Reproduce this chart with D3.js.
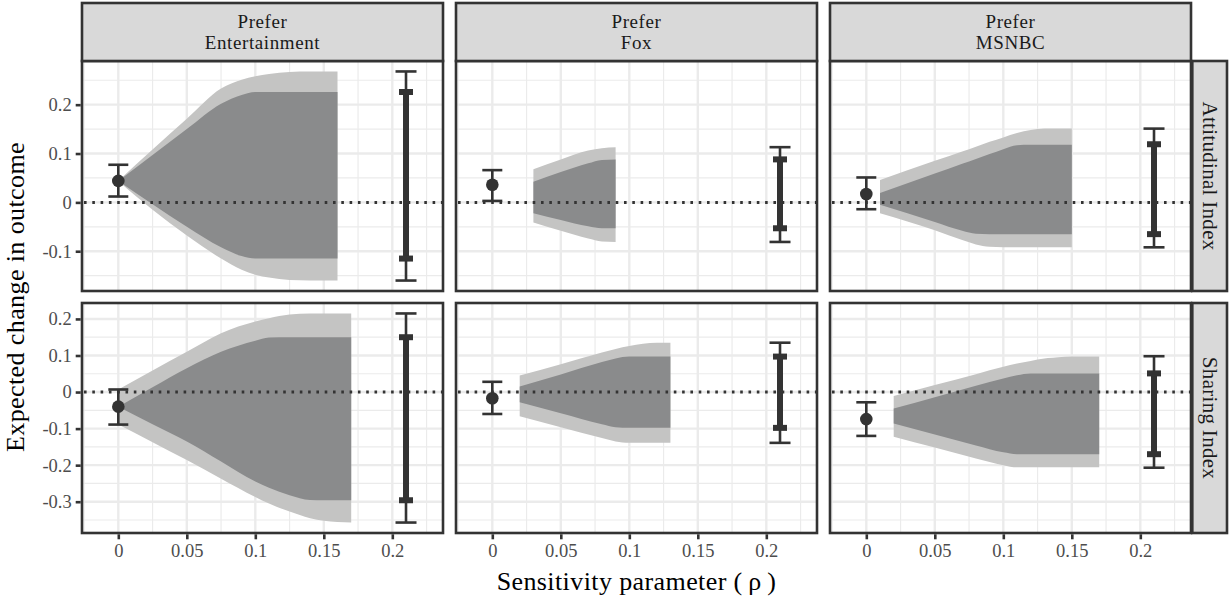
<!DOCTYPE html>
<html>
<head>
<meta charset="utf-8">
<script src="https://cdn.jsdelivr.net/npm/d3@7"></script>
<style>
  body { margin: 0; background: #fff; }
  svg text { font-family: "Liberation Serif", "Times New Roman", serif; }
</style>
</head>
<body>
<div id="chart"></div>
<script>
const groups   = ['Entertainment', 'Fox', 'MSNBC']
const outcomes = ['Attitudinal Index', 'Sharing Index']
const xTicks   = [0, 0.05, 0.1, 0.15, 0.2]
const xMinor   = [-0.025, 0.025, 0.075, 0.125, 0.175, 0.225]
const yTicks   = [[-0.1, 0, 0.1, 0.2], [-0.3, -0.2, -0.1, 0, 0.1, 0.2]]
const yMinor   = [[-0.15, -0.05, 0.05, 0.15, 0.25], [-0.35, -0.25, -0.15, -0.05, 0.05, 0.15]]

// estimate at rho = 0 and its CI (row-major: Attitudinal x3, Sharing x3)
const estimate = [0.044, 0.036, 0.017, -0.040, -0.017, -0.074]
const ciLow    = [0.012, 0.003, -0.014, -0.089, -0.060, -0.120]
const ciHigh   = [0.077, 0.066, 0.051, 0.007, 0.028, -0.028]

// bounds shown at the right of each panel
const boundRho  = 0.21
const outerLow  = [-0.160, -0.081, -0.092, -0.357, -0.139, -0.207]
const innerLow  = [-0.115, -0.053, -0.065, -0.296, -0.098, -0.170]
const innerHigh = [0.226, 0.088, 0.119, 0.150, 0.097, 0.051]
const outerHigh = [0.268, 0.113, 0.151, 0.215, 0.135, 0.098]

// sensitivity bands: [rho, lightLow, darkLow, darkHigh, lightHigh]
const bandEntAtt = [
  [0.000, 0.044, 0.044, 0.044, 0.044],
  [0.025, -0.015, -0.004, 0.097, 0.108],
  [0.050, -0.068, -0.050, 0.150, 0.171],
  [0.075, -0.115, -0.092, 0.202, 0.233],
  [0.090, -0.138, -0.110, 0.220, 0.251],
  [0.100, -0.148, -0.115, 0.226, 0.258],
  [0.110, -0.154, -0.115, 0.226, 0.263],
  [0.125, -0.159, -0.115, 0.226, 0.267],
  [0.140, -0.160, -0.115, 0.226, 0.268],
  [0.160, -0.160, -0.115, 0.226, 0.268],
]
const bandFoxAtt = [
  [0.03, -0.041, -0.022, 0.042, 0.068],
  [0.05, -0.058, -0.036, 0.062, 0.088],
  [0.07, -0.074, -0.049, 0.080, 0.106],
  [0.08, -0.080, -0.053, 0.087, 0.111],
  [0.09, -0.081, -0.053, 0.088, 0.113],
]
const bandMsnAtt = [
  [0.01, -0.022, -0.005, 0.019, 0.046],
  [0.05, -0.057, -0.040, 0.059, 0.085],
  [0.07, -0.077, -0.058, 0.079, 0.104],
  [0.08, -0.086, -0.064, 0.089, 0.114],
  [0.09, -0.091, -0.065, 0.099, 0.124],
  [0.10, -0.092, -0.065, 0.109, 0.133],
  [0.11, -0.092, -0.065, 0.117, 0.142],
  [0.12, -0.092, -0.065, 0.118, 0.148],
  [0.13, -0.092, -0.065, 0.118, 0.151],
  [0.15, -0.092, -0.065, 0.118, 0.151],
]
const bandEntShr = [
  [0.000, -0.089, -0.040, -0.040, 0.007],
  [0.025, -0.137, -0.088, 0.013, 0.059],
  [0.050, -0.186, -0.135, 0.065, 0.110],
  [0.075, -0.237, -0.190, 0.110, 0.161],
  [0.100, -0.287, -0.245, 0.140, 0.193],
  [0.110, -0.305, -0.262, 0.149, 0.202],
  [0.125, -0.327, -0.282, 0.150, 0.212],
  [0.140, -0.345, -0.295, 0.150, 0.215],
  [0.150, -0.352, -0.296, 0.150, 0.215],
  [0.170, -0.357, -0.296, 0.150, 0.215],
]
const bandFoxShr = [
  [0.02, -0.066, -0.028, 0.015, 0.045],
  [0.05, -0.096, -0.058, 0.048, 0.076],
  [0.08, -0.126, -0.088, 0.082, 0.108],
  [0.09, -0.135, -0.096, 0.092, 0.118],
  [0.10, -0.139, -0.098, 0.097, 0.126],
  [0.11, -0.139, -0.098, 0.097, 0.132],
  [0.12, -0.139, -0.098, 0.097, 0.135],
  [0.13, -0.139, -0.098, 0.097, 0.135],
]
const bandMsnShr = [
  [0.020, -0.122, -0.086, -0.045, -0.011],
  [0.050, -0.152, -0.116, -0.014, 0.019],
  [0.080, -0.182, -0.146, 0.017, 0.049],
  [0.100, -0.200, -0.165, 0.037, 0.069],
  [0.110, -0.206, -0.170, 0.046, 0.078],
  [0.120, -0.206, -0.170, 0.051, 0.085],
  [0.125, -0.206, -0.170, 0.051, 0.089],
  [0.140, -0.206, -0.170, 0.051, 0.095],
  [0.150, -0.206, -0.170, 0.051, 0.097],
  [0.170, -0.206, -0.170, 0.051, 0.097],
]
const bands = [bandEntAtt, bandFoxAtt, bandMsnAtt, bandEntShr, bandFoxShr, bandMsnShr]

const W = 1229, H = 599
const COL_X = [82, 456, 830], PANEL_W = 361
const ROW_Y = [61, 303], PANEL_H = 230
const STRIP_TOP = 3, STRIP_R = 36
const INK = '#333333', LIGHT = '#c4c4c3', DARK = '#8a8b8c'
const GRID = '#ebebeb'
const SERIF = '"Liberation Serif", "Times New Roman", serif'

const svg = d3.select('#chart').append('svg')
  .attr('width', W).attr('height', H)

const fmt = d => (Math.round(d * 1000) / 1000).toString()

// free y per row, 5% expansion like ggplot
const yScales = outcomes.map((_, r) => {
  const vals = []
  for (let c = 0; c < 3; c++) {
    const i = r * 3 + c
    vals.push(ciLow[i], ciHigh[i], outerLow[i], outerHigh[i])
    bands[i].forEach(b => vals.push(b[1], b[4]))
  }
  const [lo, hi] = d3.extent(vals)
  const pad = (hi - lo) * 0.05
  return d3.scaleLinear().domain([lo - pad, hi + pad]).range([ROW_Y[r] + PANEL_H, ROW_Y[r]])
})

const areaGen = (x, y, i0, i1) => d3.area()
  .x(d => x(d[0])).y0(d => y(d[i0])).y1(d => y(d[i1]))
  .curve(d3.curveMonotoneX)

outcomes.forEach((outcome, r) => {
  const y = yScales[r]
  groups.forEach((grp, c) => {
    const i = r * 3 + c
    const x = d3.scaleLinear().domain([-0.0265, 0.237]).range([COL_X[c], COL_X[c] + PANEL_W])
    const g = svg.append('g')
    const [x0, x1] = x.range(), [y1, y0] = y.range()

    g.append('rect').attr('x', x0).attr('y', y0).attr('width', x1 - x0).attr('height', y1 - y0).attr('fill', '#fff')

    // ── grid ─────────────────────────────────────────────
    g.selectAll('.vminor').data(xMinor).join('line')
      .attr('x1', d => x(d)).attr('x2', d => x(d)).attr('y1', y0).attr('y2', y1)
      .attr('stroke', GRID).attr('stroke-width', 1.2)
    g.selectAll('.hminor').data(yMinor[r].filter(v => v > y.domain()[0] && v < y.domain()[1])).join('line')
      .attr('y1', d => y(d)).attr('y2', d => y(d)).attr('x1', x0).attr('x2', x1)
      .attr('stroke', GRID).attr('stroke-width', 1.2)
    g.selectAll('.vmajor').data(xTicks).join('line')
      .attr('x1', d => x(d)).attr('x2', d => x(d)).attr('y1', y0).attr('y2', y1)
      .attr('stroke', GRID).attr('stroke-width', 2.4)
    g.selectAll('.hmajor').data(yTicks[r]).join('line')
      .attr('y1', d => y(d)).attr('y2', d => y(d)).attr('x1', x0).attr('x2', x1)
      .attr('stroke', GRID).attr('stroke-width', 2.4)

    // ── bands ────────────────────────────────────────────
    g.append('path').datum(bands[i]).attr('d', areaGen(x, y, 1, 4)).attr('fill', LIGHT)
    g.append('path').datum(bands[i]).attr('d', areaGen(x, y, 2, 3)).attr('fill', DARK)

    // ── zero line ────────────────────────────────────────
    g.append('line').attr('x1', x0 + 2).attr('x2', x1).attr('y1', y(0)).attr('y2', y(0))
      .attr('stroke', INK).attr('stroke-width', 3).attr('stroke-dasharray', '2.6 5.7')

    // ── estimate at rho = 0 ──────────────────────────────
    const ex = x(0)
    g.append('line').attr('x1', ex).attr('x2', ex).attr('y1', y(ciLow[i])).attr('y2', y(ciHigh[i]))
      .attr('stroke', INK).attr('stroke-width', 2.6)
    ;[ciLow[i], ciHigh[i]].forEach(v => g.append('line')
      .attr('x1', ex - 10).attr('x2', ex + 10).attr('y1', y(v)).attr('y2', y(v))
      .attr('stroke', INK).attr('stroke-width', 2.6))
    g.append('circle').attr('cx', ex).attr('cy', y(estimate[i])).attr('r', 6.3).attr('fill', INK)

    // ── bounds ───────────────────────────────────────────
    const bx = x(boundRho)
    g.append('line').attr('x1', bx).attr('x2', bx).attr('y1', y(outerLow[i])).attr('y2', y(outerHigh[i]))
      .attr('stroke', INK).attr('stroke-width', 2.6)
    ;[outerLow[i], outerHigh[i]].forEach(v => g.append('line')
      .attr('x1', bx - 10.5).attr('x2', bx + 10.5).attr('y1', y(v)).attr('y2', y(v))
      .attr('stroke', INK).attr('stroke-width', 2.6))
    g.append('line').attr('x1', bx).attr('x2', bx).attr('y1', y(innerLow[i])).attr('y2', y(innerHigh[i]))
      .attr('stroke', INK).attr('stroke-width', 6)
    ;[innerLow[i], innerHigh[i]].forEach(v => g.append('line')
      .attr('x1', bx - 7).attr('x2', bx + 7).attr('y1', y(v)).attr('y2', y(v))
      .attr('stroke', INK).attr('stroke-width', 6))

    // ── border ───────────────────────────────────────────
    g.append('rect').attr('x', x0).attr('y', y0).attr('width', x1 - x0).attr('height', y1 - y0)
      .attr('fill', 'none').attr('stroke', INK).attr('stroke-width', 2.6)

    // ── axes ─────────────────────────────────────────────
    if (c === 0) {
      const ya = svg.append('g').attr('transform', `translate(${x0 - 1.3},0)`)
        .call(d3.axisLeft(y).tickValues(yTicks[r]).tickFormat(fmt).tickSizeOuter(0).tickSize(5).tickPadding(4))
      ya.select('.domain').remove()
      ya.selectAll('line').attr('stroke', INK).attr('stroke-width', 2.6)
      ya.selectAll('text').attr('fill', '#4d4d4d').style('font-size', '18.5px').style('font-family', SERIF)
    }
    if (r === 1) {
      const xa = svg.append('g').attr('transform', `translate(0,${y1 + 1.3})`)
        .call(d3.axisBottom(x).tickValues(xTicks).tickFormat(fmt).tickSizeOuter(0).tickSize(5).tickPadding(5))
      xa.select('.domain').remove()
      xa.selectAll('line').attr('stroke', INK).attr('stroke-width', 2.6)
      xa.selectAll('text').attr('fill', '#4d4d4d').style('font-size', '18.5px').style('font-family', SERIF)
    }

    // ── strips ───────────────────────────────────────────
    if (r === 0) {
      svg.append('rect').attr('x', x0).attr('y', STRIP_TOP).attr('width', x1 - x0).attr('height', y0 - STRIP_TOP)
        .attr('fill', '#d9d9d9').attr('stroke', INK).attr('stroke-width', 2.6)
      ;[['Prefer', 27.5], [grp, 49]].forEach(([txt, by]) => svg.append('text')
        .attr('x', (x0 + x1) / 2).attr('y', by).attr('text-anchor', 'middle')
        .attr('fill', '#1a1a1a').style('font-size', '19px').style('letter-spacing', '0.6px')
        .text(txt))
    }
    if (c === 2) {
      svg.append('rect').attr('x', x1 + 1.3).attr('y', y0).attr('width', STRIP_R - 1.3).attr('height', y1 - y0)
        .attr('fill', '#d9d9d9').attr('stroke', INK).attr('stroke-width', 2.6)
      svg.append('text').attr('transform', `translate(${x1 + 1.3 + (STRIP_R - 1.3) / 2},${(y0 + y1) / 2}) rotate(90)`)
        .attr('text-anchor', 'middle').attr('dominant-baseline', 'central')
        .attr('fill', '#1a1a1a').style('font-size', '21px').style('letter-spacing', '0.3px').text(outcome)
    }
  })
})

// ── axis titles ─────────────────────────────────────────
svg.append('text').attr('x', (COL_X[0] + COL_X[2] + PANEL_W) / 2).attr('y', 590)
  .attr('text-anchor', 'middle').attr('fill', '#000').style('font-size', '26px')
  .style('letter-spacing', '0.4px')
  .text('Sensitivity parameter (\u2009ρ\u2009)')
svg.append('text').attr('transform', `translate(24,${(ROW_Y[0] + ROW_Y[1] + PANEL_H) / 2}) rotate(-90)`)
  .attr('text-anchor', 'middle').attr('fill', '#000').style('font-size', '26px')
  .style('letter-spacing', '0.4px')
  .text('Expected change in outcome')
</script>
</body>
</html>
